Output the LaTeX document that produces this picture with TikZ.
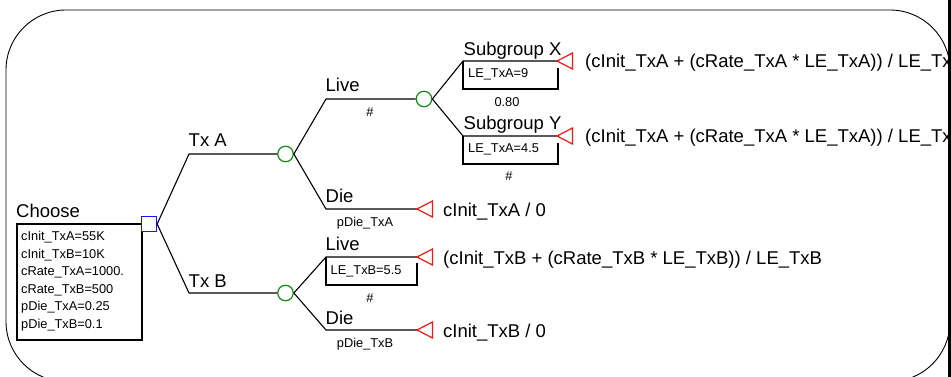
\documentclass[tikz,border=0pt]{standalone}
\usepackage{fontspec}
\setmainfont{Liberation Sans}
\definecolor{cgreen}{RGB}{20,140,20}
\definecolor{cblue}{RGB}{20,20,255}
\definecolor{cred}{RGB}{255,20,20}
\begin{document}
\begin{tikzpicture}[x=1pt,y=-1pt,
  big/.style={font=\fontsize{18.5}{22}\selectfont, inner sep=0pt, anchor=base west},
  sml/.style={font=\fontsize{12.8}{15}\selectfont, inner sep=0pt},
  br/.style={line width=1.1pt, black},
  chance/.style={circle, draw=cgreen, line width=1.2pt, fill=white, minimum size=15.5pt, inner sep=0pt},
  decision/.style={rectangle, draw=cblue, line width=1.3pt, fill=white, minimum size=15pt, inner sep=0pt},
  term/.style={draw=cred, line width=1.2pt, line join=miter}]
\useasboundingbox (0,0) rectangle (951,377);
\clip (0,0) rectangle (951,377);
% frame
\draw[line width=0.9pt, rounded corners=60pt] (6,10) rectangle (950,381.6);
% variables box
\draw[br] (17,224) rectangle (142,340);
\foreach \t [count=\i from 0] in {cInit\_TxA=55K,cInit\_TxB=10K,cRate\_TxA=1000.,cRate\_TxB=500,pDie\_TxA=0.25,pDie\_TxB=0.1}
  \node[sml, anchor=base west] (v\i) at (21,240.7+17.5*\i) {\t};
% nodes
\node[decision] (dec) at (149,224) {};
\node[chance] (cA) at (285.5,154) {};
\node[chance] (cB) at (285.5,293) {};
\node[chance] (cC) at (424,99) {};
% bend points and terminal tips
\coordinate (kA) at (189,154);
\coordinate (kB) at (189,293);
\coordinate (kLA) at (326,99);
\coordinate (kDA) at (326,209);
\coordinate (tDA) at (417,209);
\coordinate (kLB) at (326,257);
\coordinate (tLB) at (417,257);
\coordinate (kDB) at (326,330);
\coordinate (tDB) at (417,330);
\coordinate (kX) at (463,61);
\coordinate (tX) at (557,61);
\coordinate (kY) at (463,136);
\coordinate (tY) at (557,136);
% branches
\draw[br] (dec.east) -- (kA) -- (cA.west);
\draw[br] (dec.east) -- (kB) -- (cB.west);
\draw[br] (cA.east) -- (kLA) -- (cC.west);
\draw[br] (cA.east) -- (kDA) -- (tDA);
\draw[br] (cB.east) -- (kLB) -- (tLB);
\draw[br] (cB.east) -- (kDB) -- (tDB);
\draw[br] (cC.east) -- (kX) -- (tX);
\draw[br] (cC.east) -- (kY) -- (tY);
% value boxes under branches
\draw[br] (kX) -- ++(0,28) -- ++(95,0) -- ++(0,-21);
\draw[br] (kY) -- ++(0,28) -- ++(95,0) -- ++(0,-21);
\draw[br] (kLB) -- ++(0,28) -- ++(91,0) -- ++(0,-22);
% terminal triangles
\foreach \p in {tX,tY,tDA,tLB,tDB}
  \draw[term] (\p) -- ++(15.5,-8) -- ++(0,16) -- cycle;
% branch labels
\node[big] (lChoose) at (16,217.5) {Choose};
\node[big] (lTxA) at (188.5,147) {Tx A};
\node[big] (lTxB) at (188.5,287) {Tx B};
\node[big] (lLiveA) at (325.5,92) {Live};
\node[big] (lDieA) at (325.5,203) {Die};
\node[big] (lLiveB) at (325.5,250) {Live};
\node[big] (lDieB) at (325.5,324) {Die};
\node[big] (lSubX) at (463.5,56) {Subgroup X};
\node[big] (lSubY) at (463.5,129.5) {Subgroup Y};
% probabilities
\node[sml, anchor=base] (pLA) at (370,117) {\#};
\node[sml, anchor=base] (pDA) at (365,226) {pDie\_TxA};
\node[sml, anchor=base] (pLB) at (370,302) {\#};
\node[sml, anchor=base] (pDB) at (365,347) {pDie\_TxB};
\node[sml, anchor=base] (pX) at (507,106.5) {0.80};
\node[sml, anchor=base] (pY) at (509,181) {\#};
% values
\node[sml, anchor=base west] (bX) at (468,78) {LE\_TxA=9};
\node[sml, anchor=base west] (bY) at (468,153) {LE\_TxA=4.5};
\node[sml, anchor=base west] (bLB) at (330.5,274) {LE\_TxB=5.5};
% payoffs
\node[big] (fX) at (585,68) {(cInit\_TxA + (cRate\_TxA * LE\_TxA)) / LE\_TxA};
\node[big] (fY) at (585,143) {(cInit\_TxA + (cRate\_TxA * LE\_TxA)) / LE\_TxA};
\node[big] (fDA) at (443,216) {cInit\_TxA / 0};
\node[big] (fLB) at (443,264) {(cInit\_TxB + (cRate\_TxB * LE\_TxB)) / LE\_TxB};
\node[big] (fDB) at (443,337) {cInit\_TxB / 0};
% right edge bar
\fill[black] (948,0) rectangle (951,377);
\end{tikzpicture}
\end{document}
